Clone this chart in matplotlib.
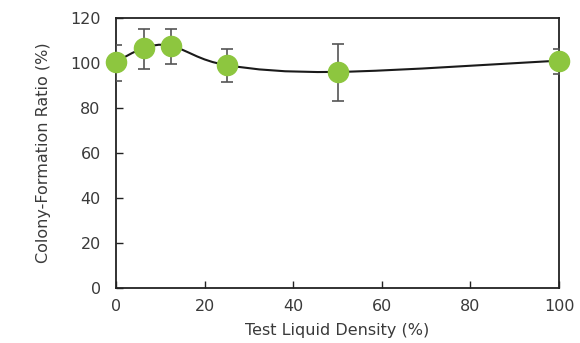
"""Colony-formation ratio vs. test liquid density."""
import matplotlib

matplotlib.use("Agg")
import matplotlib.pyplot as plt
import numpy as np
from matplotlib.patches import PathPatch
from matplotlib.path import Path

density = [0, 6.25, 12.5, 25, 50, 100]
ratio = [100.5, 106.5, 107.5, 99, 96, 101]
err_low = [8.5, 9.3, 8.1, 7.6, 13.0, 5.9]
err_high = [7.5, 8.5, 7.5, 7.2, 12.4, 5.2]

xticks = [0, 20, 40, 60, 80, 100]
yticks = [0, 20, 40, 60, 80, 100, 120]

TEXT = "#3a3a3a"
GREEN = "#8DC63F"


def smooth_path(xs, ys):
    # Excel-style smoothed line: cubic Bezier with Catmull-Rom control points
    pts = np.column_stack([xs, ys]).astype(float)
    padded = np.vstack([pts[:1], pts, pts[-1:]])
    verts = [pts[0]]
    codes = [Path.MOVETO]
    for i in range(len(pts) - 1):
        p0, p1, p2, p3 = padded[i], padded[i + 1], padded[i + 2], padded[i + 3]
        verts += [p1 + (p2 - p0) / 6, p2 - (p3 - p1) / 6, p2]
        codes += [Path.CURVE4] * 3
    return Path(verts, codes)


def main():
    plt.rcParams["font.family"] = ["DejaVu Sans"]
    fig = plt.figure(figsize=(5.8, 3.43), dpi=100)
    ax = fig.add_axes([0.2, 0.16, 0.764, 0.788])

    ax.add_patch(
        PathPatch(smooth_path(density, ratio), fill=False, color="#1a1a1a", lw=1.5, zorder=2)
    )
    ax.errorbar(
        density, ratio, yerr=[err_low, err_high], fmt="none",
        ecolor="#555555", elinewidth=1.2, capsize=4.5, capthick=1.2, zorder=3,
    )
    ax.plot(density, ratio, "o", color=GREEN, ms=14.5, mec=GREEN, ls="none",
            zorder=4, clip_on=False)

    ax.set_xlim(0, 100)
    ax.set_ylim(0, 120)
    ax.set_xticks(xticks)
    ax.set_yticks(yticks)
    ax.tick_params(direction="in", length=5, width=1, colors="#222222",
                   labelcolor=TEXT, labelsize=11.5)
    ax.tick_params(axis="y", pad=11)
    ax.tick_params(axis="x", pad=8)
    for sp in ax.spines.values():
        sp.set_linewidth(1.3)
        sp.set_color("#222222")

    ax.set_xlabel("Test Liquid Density (%)", fontsize=11.5, color=TEXT, labelpad=6)
    ax.set_ylabel("Colony-Formation Ratio (%)", fontsize=11.5, color=TEXT, labelpad=14)

    fig.savefig("out.png", dpi=100)


if __name__ == "__main__":
    main()
